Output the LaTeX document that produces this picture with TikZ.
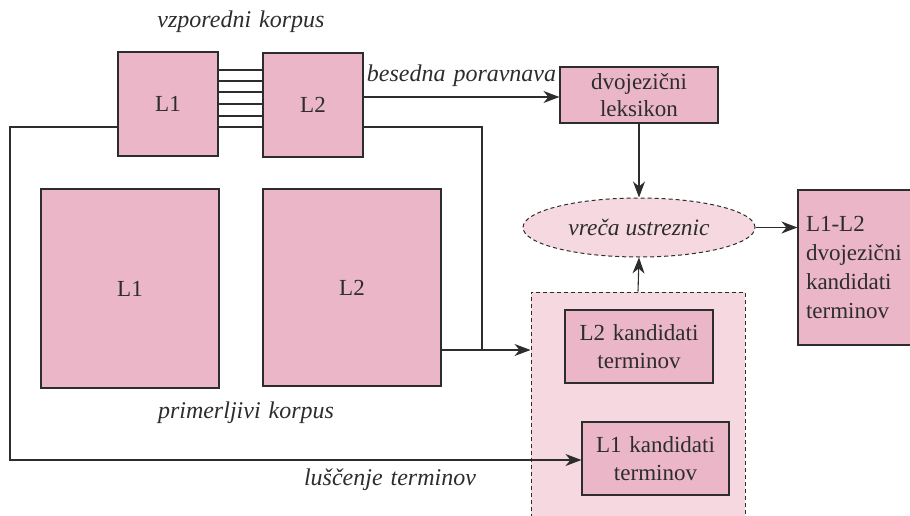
\documentclass[tikz,border=0pt]{standalone}
\usepackage{fontspec}
\setmainfont{Liberation Serif}
\newfontfamily\diafont{Liberation Serif}
\usetikzlibrary{shapes.geometric,arrows.meta}
\definecolor{boxpink}{RGB}{234,182,200}
\definecolor{palepink}{RGB}{246,216,225}
\definecolor{ink}{RGB}{45,45,45}
\tikzset{
  box/.style={draw=ink, line width=1.1pt, fill=boxpink, inner sep=0pt,
    font=\diafont\fontsize{23}{28}\selectfont, align=center, text=ink},
  zone/.style={draw=ink, line width=1pt, fill=palepink, dashed, dash pattern=on 4pt off 3pt},
  lbl/.style={font=\diafont\fontsize{24}{28}\selectfont\itshape, text=ink, anchor=base,
    inner sep=0pt, text width=200pt, align=center},
  wire/.style={draw=ink, line width=1.1pt},
  arr/.style={wire, -{Stealth[length=16pt,width=12pt,inset=5pt]}}
}
\begin{document}
\begin{tikzpicture}[x=1pt,y=-1pt]
\useasboundingbox (0,0) rectangle (910,516);
\clip (0,0) rectangle (910,516);

% parallel corpus
\node[box, text width=100, minimum height=104] (sL1) at (168,104) {L1};
\node[box, text width=100, minimum height=104] (sL2) at (313,105) {L2};
\node[lbl] (par) at (241,28) {vzporedni korpus};
\foreach \yy in {70,81,92,104,116,127}
  \draw[wire] (sL1.east |- 0,\yy) -- (sL2.west |- 0,\yy);

% comparable corpus
\node[box, text width=178, minimum height=199] (bL1) at (130,288.5) {L1};
\node[box, text width=178, minimum height=197] (bL2) at (352,287.5) {L2};
\node[lbl] (comp) at (246,418) {primerljivi korpus};

% candidate container
\node[zone, minimum width=214, minimum height=232, inner sep=0pt] (cont) at (638,408) {};
\node[box, text width=148, minimum height=73] (k2) at (639,346.5) {L2 kandidati\\terminov};
\node[box, text width=147, minimum height=73] (k1) at (655.5,458.5) {L1 kandidati\\terminov};

% lexicon, bag of equivalents, result
\node[box, text width=158, minimum height=56, font=\diafont\fontsize{23}{27}\selectfont] (lex) at (639,95) {dvojezični\\leksikon};
\node[ellipse, zone, minimum width=232, minimum height=59, inner sep=0pt,
  font=\diafont\fontsize{23.5}{28}\selectfont\itshape, text=ink] (bag) at (639,227.5) {vreča ustreznic};
\node[box, text width=98, inner sep=8pt, align=left, minimum height=155,
  font=\diafont\fontsize{23}{29}\selectfont] (res) at (855,267.5) {L1-L2\\dvojezični\\kandidati\\terminov};

% connectors
\coordinate (c1) at (10,127);
\coordinate (c2) at (10,460);
\draw[arr] (sL1.west |- c1) -- (c1) -- (c2) -- (k1.west |- c2);
\node[lbl] (ext) at (390,485) {luščenje terminov};

\coordinate (d1) at (482,127);
\coordinate (d2) at (482,350);
\draw[wire] (sL2.east |- d1) -- (d1) -- (d2);
\draw[arr] (bL2.east |- d2) -- (cont.west |- d2);

\draw[arr] (sL2.east |- 0,97) -- node[lbl, pos=0.5, yshift=15pt] (ali) {besedna poravnava} (lex.west |- 0,97);
\draw[arr] (lex.south) -- (bag.north);
\draw[arr] (cont.north) -- (bag.south);
\draw[arr] (bag.east) -- (res.west |- bag.east);
\end{tikzpicture}
\end{document}
